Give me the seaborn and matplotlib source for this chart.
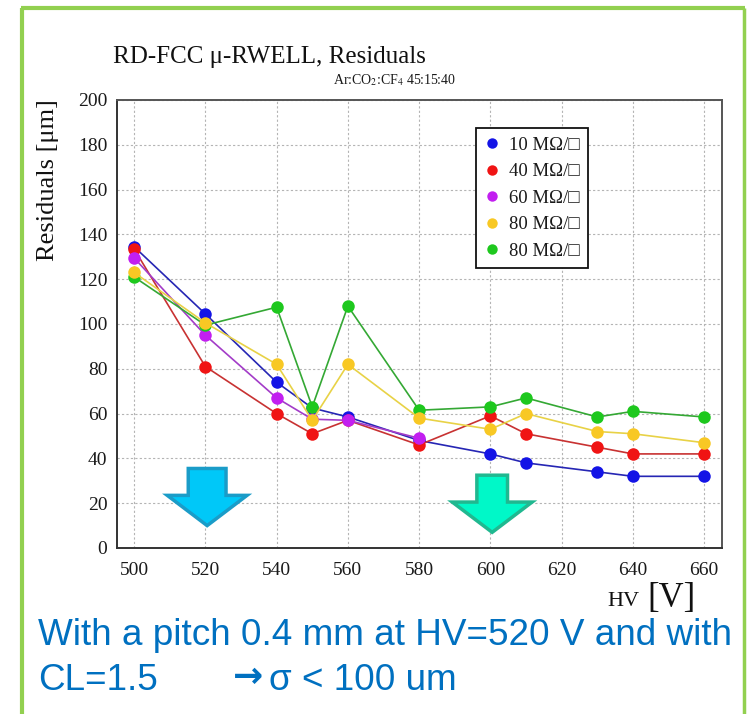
import matplotlib
matplotlib.use("Agg")
import matplotlib.pyplot as plt
import seaborn as sns
from matplotlib.lines import Line2D
from matplotlib.patches import Polygon
from matplotlib.ticker import MultipleLocator

# HV scan points (V)
hv = [500, 520, 540, 550, 560, 580, 600, 610, 630, 640, 660]
hv_60 = [500, 520, 540, 550, 560, 580]

# residuals in um
res_10 = [134.5, 104.5, 74, 62.5, 58.5, 48, 42, 38, 34, 32, 32]
res_40 = [133.5, 81, 60, 51, 57, 46, 59, 51, 45, 42, 42]
res_60 = [129.5, 95, 67, 57.5, 57, 49]
res_80a = [123, 100.5, 82, 57, 82, 58, 53, 60, 52, 51, 47]
res_80b = [121, 99.5, 107.5, 63, 108, 61.5, 63, 67, 58.5, 61, 58.5]

labels = ["10 MΩ/□", "40 MΩ/□", "60 MΩ/□", "80 MΩ/□", "80 MΩ/□"]
marker_colors = ["#1414e6", "#f01414", "#c21ff0", "#f8c824", "#1ec81e"]
line_colors = ["#2626b4", "#c83232", "#a33cc8", "#e8d246", "#34a834"]

x_ticks = [500, 520, 540, 560, 580, 600, 620, 640, 660]
y_ticks = [0, 20, 40, 60, 80, 100, 120, 140, 160, 180, 200]

sns.set_style("white")
serif = ["Liberation Serif", "DejaVu Serif"]
sans = ["Liberation Sans", "DejaVu Sans"]
plt.rcParams["font.family"] = serif
plt.rcParams["mathtext.fontset"] = "stix"

W, H = 747, 714
fig = plt.figure(figsize=(W / 100, H / 100), dpi=100)
ax = fig.add_axes([117 / W, 1 - 548 / H, 605 / W, 448 / H])

series = [(hv, res_10), (hv, res_40), (hv_60, res_60), (hv, res_80a), (hv, res_80b)]
zorders = [3, 4, 5, 7, 6]
for (xs, ys), mc, lc, z in zip(series, marker_colors, line_colors, zorders):
    sns.lineplot(x=xs, y=ys, ax=ax, color=lc, linewidth=1.2, marker="o",
                 markersize=9, markerfacecolor=mc, markeredgewidth=0,
                 sort=False, legend=False, zorder=z)

ax.set_xlim(495.2, 665)
ax.set_ylim(0, 200)
ax.set_xticks(x_ticks)
ax.set_yticks(y_ticks)
ax.xaxis.set_minor_locator(MultipleLocator(5))
ax.yaxis.set_minor_locator(MultipleLocator(4))
ax.tick_params(which="both", direction="in", top=False, right=False,
               colors="#1a1a1a", labelsize=14, width=1.3)
ax.tick_params(which="major", length=9)
ax.tick_params(axis="x", which="major", pad=10)
ax.tick_params(axis="y", which="major", pad=7)
ax.tick_params(which="minor", length=5)
ax.grid(True, which="major", color="#b4b4b4", linestyle=(0, (2, 2)), linewidth=0.8)
ax.set_axisbelow(True)
for side, sp in ax.spines.items():
    sp.set_color("#333333" if side in ("left", "bottom") else "#555555")
    sp.set_linewidth(1.4)

handles = [Line2D([], [], linestyle="none", marker="o", markersize=7.5,
                  markerfacecolor=c, markeredgewidth=0) for c in marker_colors]
leg = ax.legend(handles, labels, loc="upper left",
                bbox_to_anchor=((476 - 117) / 605, (548 - 128) / 448),
                borderaxespad=0, fontsize=13.5, handlelength=0.8,
                handletextpad=0.5, labelspacing=0.5, borderpad=0.45,
                fancybox=False, framealpha=1, edgecolor="#111111")
leg.get_frame().set_linewidth(1.3)
leg.set_zorder(10)
for t in leg.get_texts():
    t.set_color("#1a1a1a")

# down arrows marking 520 V and 600 V
def down_arrow(xc, top, base, tip, half_shaft, half_head, face, edge):
    pts = [(xc - half_shaft, top), (xc + half_shaft, top), (xc + half_shaft, base),
           (xc + half_head, base), (xc, tip), (xc - half_head, base),
           (xc - half_shaft, base)]
    ax.add_patch(Polygon(pts, closed=True, facecolor=face, edgecolor=edge,
                         linewidth=2.5, zorder=8, joinstyle="miter"))

down_arrow(520.5, 35.5, 23.5, 10, 5.3, 11.2, "#00c8f8", "#1a9cc8")
down_arrow(600.5, 32.5, 20.5, 7, 4.3, 11.2, "#00f8c8", "#20b890")

# titles and axis labels
fig.text(113 / W, 1 - 63 / H, "RD-FCC μ-RWELL, Residuals", fontsize=18,
         color="#111111", ha="left", va="baseline")
fig.text(394 / W, 1 - 84 / H, "Ar:CO$_2$:CF$_4$ 45:15:40", fontsize=10,
         color="#1a1a1a", ha="center", va="baseline")
fig.text(48 / W, 1 - 99 / H, "Residuals [μm]", fontsize=19, rotation=90,
         color="#111111", ha="center", va="top")
fig.text(640 / W, 1 - 606 / H, "HV", fontsize=16, color="#111111",
         ha="right", va="baseline")
fig.text(696 / W, 1 - 607 / H, "[V]", fontsize=25, color="#111111",
         ha="right", va="baseline")

# comment below the plot
blue = "#0070c0"
fig.text(38 / W, 1 - 645 / H, "With a pitch 0.4 mm at HV=520 V and with",
         fontsize=26.6, color=blue, family=sans, ha="left", va="baseline")
fig.text(38 / W, 1 - 690 / H, "CL=1.5", fontsize=26.6, color=blue,
         family=sans, ha="left", va="baseline")
fig.text(233 / W, 1 - 687 / H, "→", fontsize=26, fontweight="bold",
         color=blue, family=["DejaVu Sans"], ha="left", va="baseline")
fig.text(269 / W, 1 - 690 / H, "σ < 100 um", fontsize=26.6, color=blue,
         family=sans, ha="left", va="baseline")

# green slide frame
green = "#92d050"
fig.add_artist(Line2D([22 / W, 22 / W], [0, 1 - 8 / H], transform=fig.transFigure,
                      color=green, linewidth=3, solid_capstyle="butt"))
fig.add_artist(Line2D([20.5 / W, 745 / W], [1 - 8 / H, 1 - 8 / H],
                      transform=fig.transFigure, color=green, linewidth=3,
                      solid_capstyle="butt"))
fig.add_artist(Line2D([743.5 / W, 743.5 / W], [0, 1 - 8 / H],
                      transform=fig.transFigure, color=green, linewidth=2.5,
                      solid_capstyle="butt"))

fig.savefig("out.png", dpi=100)
